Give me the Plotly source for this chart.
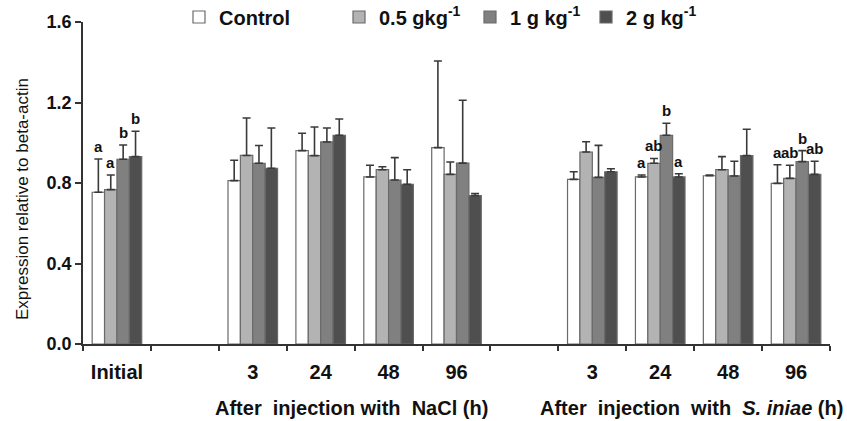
import plotly.graph_objects as go

# ---- data ----
cat_ids = ["Initial", "gapA", "NaCl 3", "NaCl 24", "NaCl 48", "NaCl 96",
           "gapB", "Sin 3", "Sin 24", "Sin 48", "Sin 96"]
cat_labels = ["Initial", "", "3", "24", "48", "96", "", "3", "24", "48", "96"]

series_names = ["Control", "0.5 gkg<sup>-1</sup>", "1 g kg<sup>-1</sup>", "2 g kg<sup>-1</sup>"]
series_colors = ["#ffffff", "#b3b3b3", "#808080", "#4f4f4f"]

control = [0.754, None, 0.812, 0.961, 0.830, 0.976, None, 0.818, 0.830, 0.836, 0.798]
g05 =     [0.767, None, 0.937, 0.936, 0.866, 0.843, None, 0.954, 0.898, 0.866, 0.823]
g1 =      [0.918, None, 0.898, 1.004, 0.815, 0.899, None, 0.828, 1.037, 0.835, 0.906]
g2 =      [0.931, None, 0.873, 1.037, 0.793, 0.737, None, 0.856, 0.830, 0.936, 0.843]

err_control = [0.165, None, 0.101, 0.086, 0.058, 0.430, None, 0.038, 0.010, 0.004, 0.093]
err_g05 =     [0.073, None, 0.186, 0.142, 0.015, 0.061, None, 0.051, 0.024, 0.065, 0.065]
err_g1 =      [0.071, None, 0.088, 0.069, 0.111, 0.312, None, 0.159, 0.060, 0.073, 0.055]
err_g2 =      [0.126, None, 0.200, 0.081, 0.073, 0.010, None, 0.015, 0.016, 0.131, 0.065]

let_control = ["a", "", "", "", "", "", "", "", "a", "", "a"]
let_g05 =     ["a", "", "", "", "", "", "", "", "ab", "", "ab"]
let_g1 =      ["b", "", "", "", "", "", "", "", "b", "", "b"]
let_g2 =      ["b", "", "", "", "", "", "", "", "a", "", "ab"]

y_ticks = [0.0, 0.4, 0.8, 1.2, 1.6]

values = [control, g05, g1, g2]
errors = [err_control, err_g05, err_g1, err_g2]
letters = [let_control, let_g05, let_g1, let_g2]

# ---- layout params ----
W, H = 847, 421
ML, MR, MT, MB = 83, 17, 22, 77
BARGAP = 0.27
FONT = "Liberation Sans, Arial, sans-serif"
plot_w = W - ML - MR
plot_h = H - MT - MB


def px_x(p):
    return (p - ML) / plot_w


def px_y(p):
    return (H - MB - p) / plot_h


fig = go.Figure()
legend_ids = ["legend", "legend2", "legend3", "legend4"]
for i in range(4):
    fig.add_trace(go.Bar(
        x=cat_ids, y=values[i], name=series_names[i],
        marker=dict(color=series_colors[i], line=dict(color="#6a6a6a", width=1.2)),
        error_y=dict(type="data", array=errors[i], symmetric=False,
                     arrayminus=[0 if v is not None else None for v in errors[i]],
                     color="#3a3a3a", thickness=1.6, width=4),
        legend=legend_ids[i],
    ))

bar_w = plot_w / len(cat_ids) * (1 - BARGAP) / 4
for i in range(4):
    for j, c in enumerate(cat_ids):
        if letters[i][j]:
            fig.add_annotation(
                x=c, y=values[i][j] + errors[i][j], xref="x", yref="y",
                text="<b>%s</b>" % letters[i][j], showarrow=False,
                xshift=(i - 1.5) * bar_w, yanchor="bottom", yshift=2,
                font=dict(family=FONT, size=15, color="#111111"))

# group titles
fig.add_annotation(x=px_x(351), y=px_y(408), xref="paper", yref="paper",
                   text="<b>After  injection with  NaCl (h)</b>", showarrow=False,
                   xanchor="center", yanchor="middle",
                   font=dict(family=FONT, size=20, color="#111111"))
fig.add_annotation(x=px_x(691), y=px_y(408), xref="paper", yref="paper",
                   text="<b>After  injection  with  <i>S. iniae</i> (h)</b>", showarrow=False,
                   xanchor="center", yanchor="middle",
                   font=dict(family=FONT, size=20, color="#111111"))

# y axis title
fig.add_annotation(x=px_x(22), y=px_y(199), xref="paper", yref="paper",
                   text="Expression relative to beta-actin", showarrow=False,
                   textangle=-90, xanchor="center", yanchor="middle",
                   font=dict(family=FONT, size=17, color="#111111"))

leg_font = dict(family=FONT, size=20, color="#111111", weight="bold")
leg_x = [179, 339, 470, 586]
legend_layouts = {}
for i, lid in enumerate(legend_ids):
    legend_layouts[lid] = dict(
        x=px_x(leg_x[i]), y=px_y(17),
        xanchor="left", yanchor="middle", orientation="h",
        font=leg_font, bgcolor="rgba(0,0,0,0)", borderwidth=0,
        itemwidth=30, tracegroupgap=0,
    )

fig.update_layout(
    width=W, height=H,
    margin=dict(l=ML, r=MR, t=MT, b=MB, pad=0, autoexpand=False),
    paper_bgcolor="white", plot_bgcolor="white",
    barmode="group", bargap=BARGAP, bargroupgap=0,
    showlegend=True,
    font=dict(family=FONT, color="#111111"),
    **legend_layouts,
)

fig.update_xaxes(
    type="category", categoryorder="array", categoryarray=cat_ids,
    tickmode="array", tickvals=cat_ids,
    ticktext=[("<b>%s</b>" % t) if t else " " for t in cat_labels],
    tickson="boundaries", ticks="outside", ticklen=5, tickwidth=1.5, tickcolor="#333333",
    showline=True, linecolor="#333333", linewidth=1.5, showgrid=False, zeroline=False,
    tickfont=dict(family=FONT, size=20, color="#111111"), ticklabelstandoff=9,
)
fig.update_yaxes(
    range=[0, 1.6], tickmode="array", tickvals=y_ticks,
    ticktext=["<b>%.1f</b>" % v for v in y_ticks],
    ticks="outside", ticklen=6, tickwidth=1.5, tickcolor="#333333",
    showline=True, linecolor="#333333", linewidth=1.5, showgrid=False, zeroline=False,
    tickfont=dict(family=FONT, size=18, color="#111111"),
)

fig.write_html("out.html")
